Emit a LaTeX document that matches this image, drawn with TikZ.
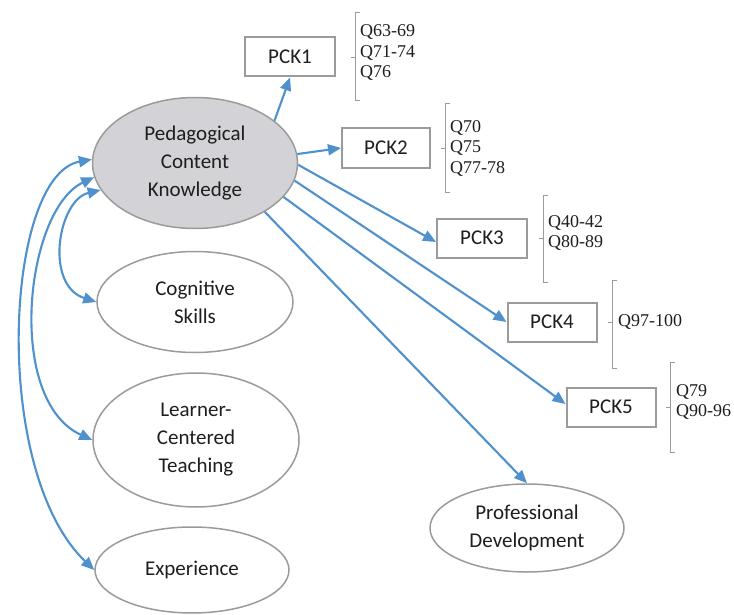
\documentclass[tikz,border=0pt]{standalone}
\usepackage{fontspec}
\usetikzlibrary{shapes.geometric,arrows.meta}
\newfontfamily\calfont{Carlito}
\newfontfamily\tmsfont{Liberation Serif}
\definecolor{arrowblue}{RGB}{79,145,205}
\definecolor{linegray}{RGB}{155,155,155}
\definecolor{pckfill}{RGB}{211,211,215}
\definecolor{txt}{RGB}{30,30,30}
\tikzset{
  ell/.style={ellipse, draw=linegray, line width=1.5pt, inner sep=0pt, align=center,
    font=\calfont\fontsize{21}{28}\selectfont, text=txt},
  pbox/.style={rectangle, draw=linegray, line width=2pt, minimum width=90pt,
    minimum height=39pt, inner sep=0pt, font=\calfont\fontsize{21}{24}\selectfont, text=txt},
  qtext/.style={anchor=west, align=left, inner sep=0pt,
    font=\tmsfont\fontsize{18}{20.5}\selectfont, text=txt},
  brk/.style={draw=linegray, line width=0.9pt},
  arr/.style={draw=arrowblue, line width=2.1pt, -{Triangle[length=13pt,width=11pt]}},
  darr/.style={draw=arrowblue, line width=2.1pt, {Triangle[length=13pt,width=11pt]}-{Triangle[length=13pt,width=11pt]}}
}
\begin{document}
\begin{tikzpicture}[x=1pt,y=-1pt]
\useasboundingbox[fill=white] (0,0) rectangle (734,615);
% ellipses
\node[ell, fill=pckfill, minimum width=205pt, minimum height=131pt] (pck) at (195,163) {Pedagogical\\Content\\Knowledge};
\node[ell, minimum width=196pt, minimum height=101pt] (cog) at (195,302) {Cognitive\\Skills};
\node[ell, minimum width=206pt, minimum height=134pt] (lct) at (196,440) {Learner-\\Centered\\Teaching};
\node[ell, minimum width=194pt, minimum height=86pt] (exp) at (192,570) {Experience};
\node[ell, minimum width=194pt, minimum height=88pt] (pd) at (527,528) {Professional\\Development};
% boxes
\node[pbox] (pck1) at (290,57) {PCK1};
\node[pbox, minimum width=88pt, minimum height=40pt] (pck2) at (386,148) {PCK2};
\node[pbox] (pck3) at (482,238) {PCK3};
\node[pbox, minimum width=89pt] (pck4) at (552,322) {PCK4};
\node[pbox, minimum width=89pt] (pck5) at (611,407) {PCK5};
% item lists
\node[qtext] (q1) at (360,53) {Q63-69\\Q71-74\\Q76};
\node[qtext] (q2) at (450,148) {Q70\\Q75\\Q77-78};
\node[qtext] (q3) at (548,233) {Q40-42\\Q80-89};
\node[qtext] (q4) at (618,322) {Q97-100};
\node[qtext] (q5) at (676,402) {Q79\\Q90-96};
% brackets
\draw[brk] (360,12) -- (355,12) -- (355,100) -- (360,100); \draw[brk] (355,57) -- (351,57);
\draw[brk] (450,103) -- (445,103) -- (445,192) -- (450,192); \draw[brk] (445,148) -- (441,148);
\draw[brk] (548,195) -- (543,195) -- (543,282) -- (548,282); \draw[brk] (543,238) -- (539,238);
\draw[brk] (617,280) -- (612,280) -- (612,368) -- (617,368); \draw[brk] (612,322) -- (608,322);
\draw[brk] (675,362) -- (670,362) -- (670,452) -- (675,452); \draw[brk] (670,407) -- (666,407);
% arrows to indicators
\draw[arr] (pck.28) -- (pck1.south);
\draw[arr] (pck.5) -- (pck2.west);
\draw[arr] (pck.-1) -- ([yshift=-4pt]pck3.west);
\draw[arr] (pck.-10) -- (pck4.west);
\draw[arr] (pck.-21) -- ([yshift=3pt]pck5.west);
\draw[arr] (pck.-35) -- (pd.north);
% correlations
\draw[darr] (pck.196) .. controls (58,200) and (44,285) .. (cog.west);
\draw[darr] (pck.188) .. controls (25,210) and (5,400) .. (lct.west);
\draw[darr] (pck.178) .. controls (5,175) and (-10,470) .. (exp.west);
\end{tikzpicture}
\end{document}
